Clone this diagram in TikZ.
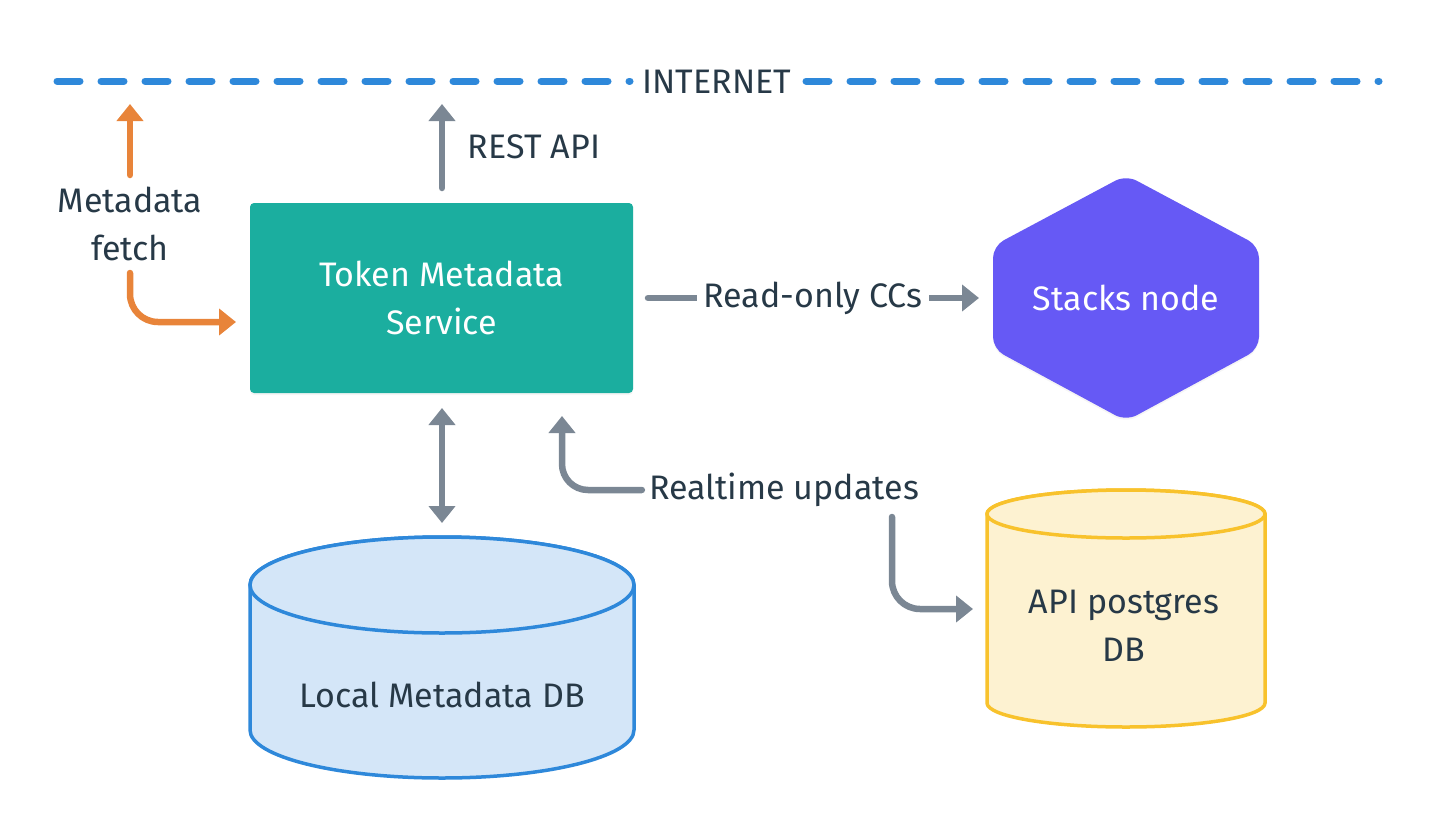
\documentclass[tikz,border=0pt]{standalone}
\usepackage{fontspec}
\setmainfont{Fira Sans}
\usetikzlibrary{arrows.meta,calc,shadows}
\definecolor{svcteal}{HTML}{1BAE9F}
\definecolor{stackpurple}{HTML}{6659F5}
\definecolor{arrgray}{HTML}{7B8794}
\definecolor{arrorange}{HTML}{E8843A}
\definecolor{txtdark}{HTML}{273947}
\definecolor{netblue}{HTML}{2E88DA}
\definecolor{dbfill}{HTML}{D4E6F8}
\definecolor{ybord}{HTML}{F8C22C}
\definecolor{yfill}{HTML}{FDF2D1}
\begin{document}
\begin{tikzpicture}[x=1pt,y=-1pt,
  txt/.style={text=txtdark, font=\fontsize{34}{48}\selectfont, inner sep=0pt, align=center},
  wtxt/.style={text=white, font=\fontsize{34}{48}\selectfont, align=center},
  garrow/.style={draw=arrgray, line width=6.5pt, line cap=round, -{Triangle[width=26pt,length=17pt]}},
  oarrow/.style={garrow, draw=arrorange},
  netline/.style={draw=netblue, line width=7pt, line cap=round, dash pattern=on 23pt off 21pt},
  svcbox/.style={rectangle, fill=svcteal, rounded corners=4pt, minimum width=383pt, minimum height=190pt, inner sep=0pt, outer sep=0pt, wtxt, drop shadow={shadow xshift=0pt, shadow yshift=-2pt, opacity=0.08}},
  dbshape/.style={line width=3.5pt}
]
\useasboundingbox (0,0) rectangle (1436,828);

% internet line
\node[txt] (inet) at (717,82) {INTERNET};
\coordinate (netL1) at (57,81);
\coordinate (netL2) at (630,81);
\coordinate (netR1) at (806,81);
\coordinate (netR2) at (1379,81);
\draw[netline] (netL1) -- (netL2);
\draw[netline] (netR1) -- (netR2);

% service box
\node[svcbox] (svc) at (441.5,298) {Token Metadata\\Service};

% stacks hexagon
\fill[stackpurple, rounded corners=12pt, drop shadow={shadow xshift=0pt, shadow yshift=-2pt, opacity=0.08}]
  (1126,175) -- (1259,246) -- (1259,349) -- (1126,421) -- (993,349) -- (993,246) -- cycle;
\node[wtxt, minimum width=266pt, minimum height=99pt, inner sep=0pt, outer sep=0pt] (stacks) at (1126,298) {Stacks node};

% local db cylinder
\path[dbshape, fill=dbfill, draw=netblue] (250,585) -- (250,730)
  arc[start angle=180, end angle=0, x radius=192, y radius=48] -- (634,585)
  arc[start angle=0, end angle=-180, x radius=192, y radius=48] -- cycle;
\draw[dbshape, fill=dbfill, draw=netblue] (442,585) ellipse[x radius=192, y radius=48];
\node[txt] (localdb) at (442,695) {Local Metadata DB};
\coordinate (dbTop) at (442,537);

% api db cylinder
\path[dbshape, fill=yfill, draw=ybord] (987,514) -- (987,703)
  arc[start angle=180, end angle=0, x radius=139, y radius=24] -- (1265,514)
  arc[start angle=0, end angle=-180, x radius=139, y radius=24] -- cycle;
\draw[dbshape, fill=yfill, draw=ybord] (1126,514) ellipse[x radius=139, y radius=24];
\node[txt] (apidb) at (1124,626) {API postgres\\DB};
\coordinate (apiIn) at (973,609);

% metadata fetch
\node[txt] (mf) at (130,224) {Metadata\\fetch};
\coordinate (ofBot) at (130,175);
\coordinate (ofTip) at (130,104);
\draw[oarrow] (ofBot) -- (ofTip);
\coordinate (of2) at (130,273);
\draw[oarrow, rounded corners=28pt] (of2) |- ($(svc.west)+(-14,24)$);

% REST API
\coordinate (restTip) at (442,104);
\draw[garrow] ($(svc.north)+(0.5,-15)$) -- (restTip);
\node[txt] (rest) at (534,147) {REST API};

% service <-> local db
\draw[garrow, {Triangle[width=26pt,length=17pt]}-{Triangle[width=26pt,length=17pt]}]
  ($(svc.south)+(0.5,15)$) -- ($(dbTop)+(0,-14)$);

% read-only CCs
\draw[garrow, shorten <=15pt, shorten >=14pt] (svc.east) --
  node[txt, fill=white, inner xsep=7pt, inner ysep=2pt] (ro) {Read-only CCs} (stacks.west);

% realtime updates
\node[txt, inner sep=7pt] (rt) at (784,490) {Realtime updates};
\draw[garrow, rounded corners=26pt] (rt.west) -| ($(svc.south)+(120.5,23)$);
\coordinate (rt2) at (892,517);
\draw[garrow, rounded corners=28pt] (rt2) |- (apiIn);
\end{tikzpicture}
\end{document}
